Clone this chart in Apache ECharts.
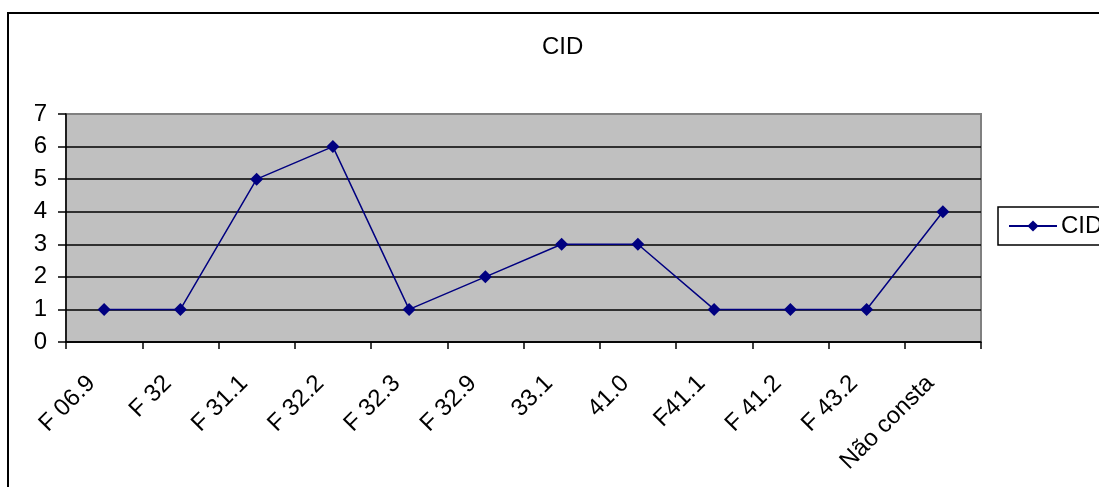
<!DOCTYPE html>
<html>
<head>
<meta charset="utf-8">
<script src="https://cdn.jsdelivr.net/npm/echarts@6/dist/echarts.min.js"></script>
<style>
html,body{margin:0;padding:0;background:#fff;}
#chart{width:1099px;height:487px;}
</style>
</head>
<body>
<div id="chart"></div>
<script>
const categories = ['F 06.9','F 32','F 31.1','F 32.2','F 32.3','F 32.9','33.1','41.0','F41.1','F 41.2','F 43.2','Não consta'];
const cidValues = [1,1,5,6,1,2,3,3,1,1,1,4];
const seriesName = 'CID';
const titleText = 'CID';

const chart = echarts.init(document.getElementById('chart'));
const font = 'Arial, "Liberation Sans", sans-serif';
chart.setOption({
  animation: false,
  backgroundColor: '#fff',
  title: {
    text: titleText, left: 537, top: 30,
    textStyle: { fontFamily: font, fontSize: 24, fontWeight: 'normal', color: '#000' }
  },
  graphic: [{
    type: 'rect', shape: { x: 8, y: 13, width: 1200, height: 600 },
    style: { fill: 'none', stroke: '#000', lineWidth: 2 }, silent: true, z: -1
  }],
  legend: {
    left: 998, top: 207,
    padding: [7, 40, 7, 10],
    itemWidth: 48, itemHeight: 14, itemGap: 5,
    borderColor: '#000', borderWidth: 1.5,
    backgroundColor: '#fff',
    textStyle: { fontFamily: font, fontSize: 24, color: '#000', padding: [0,0,0,-1] },
    data: [seriesName]
  },
  grid: {
    left: 66, right: 118, top: 114, bottom: 145,
    show: true, backgroundColor: '#C0C0C0', borderColor: '#808080', borderWidth: 2
  },
  xAxis: {
    type: 'category', data: categories, boundaryGap: true,
    axisLine: { lineStyle: { color: '#000', width: 1.5 } },
    axisTick: { show: true, length: 7, lineStyle: { color: '#000', width: 1.5 } },
    axisLabel: { rotate: 45, margin: 25, interval: 0, padding: [0, 18, 0, 0], fontFamily: font, fontSize: 24, color: '#000' }
  },
  yAxis: {
    type: 'value', min: 0, max: 7, interval: 1,
    axisLine: { show: true, lineStyle: { color: '#000', width: 1.5 } },
    axisTick: { show: true, length: 8, lineStyle: { color: '#000', width: 1.5 } },
    axisLabel: { margin: 19, fontFamily: font, fontSize: 24, color: '#000' },
    splitLine: { show: true, lineStyle: { color: ['#000','#000','#000','#000','#000','#000','#000','#808080'], width: 1.5 } }
  },
  series: [{
    name: seriesName, type: 'line', data: cidValues,
    symbol: 'diamond', symbolSize: 13,
    itemStyle: { color: '#000080' },
    lineStyle: { color: '#000080', width: 1.5 }
  }]
});
</script>
</body>
</html>
